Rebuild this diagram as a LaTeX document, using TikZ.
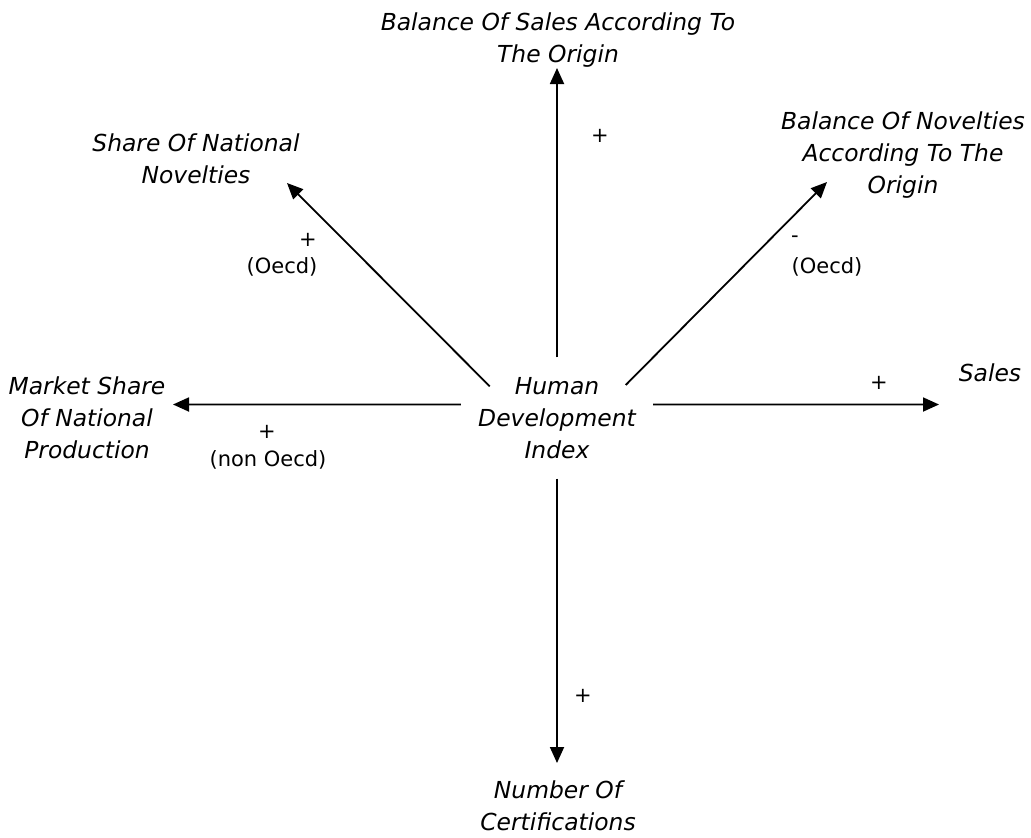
\documentclass[tikz,border=0pt]{standalone}
\usepackage{fontspec}
\setmainfont{DejaVu Sans}
\usetikzlibrary{arrows.meta}

\begin{document}
\begin{tikzpicture}[x=1pt, y=-1pt,
	arr/.style={line width=1.8pt, -{Triangle[length=16pt, width=14pt]}},
	var/.style={align=center, inner sep=0pt, font=\fontsize{23.4}{32}\selectfont\itshape},
	sgn/.style={inner sep=0pt, font=\fontsize{21}{26}\selectfont}]
	\useasboundingbox (0,0) rectangle (1031,838);
	
	\node[var, minimum width=192pt, minimum height=121pt] (n0) at (557,418) {Human\\Development\\Index};
	\node[var] (n1) at (558,40) {Balance Of Sales According To\\The Origin};
	\node[var] (n2) at (903,155) {Balance Of Novelties\\According To The\\Origin};
	\node[var] (n3) at (990,373) {Sales};
	\node[var] (n4) at (558,806) {Number Of\\Certifications};
	\node[var] (n5) at (87,418) {Market Share\\Of National\\Production};
	\node[var] (n6) at (196,159) {Share Of National\\Novelties};
	
	\coordinate (t1) at (557,68);
	\coordinate (t2) at (827,182);
	\coordinate (t3) at (939,404.5);
	\coordinate (t4) at (557,763);
	\coordinate (t5) at (173,404.5);
	\coordinate (t6) at (287,183);
	
	\draw[arr] (n0.north) -- (t1);
	\draw[arr, shorten <=-39pt] (n0.north east) -- (t2);
	\draw[arr] (n0.8) -- (t3);
	\draw[arr] (n0.south) -- (t4);
	\draw[arr] (n0.172) -- (t5);
	\draw[arr, shorten <=-41pt] (n0.north west) -- (t6);
	
	\node[sgn] (s1) at (600,136) {+};
	\node[sgn] (s2) at (308,240) {+};
	\node[sgn] (s3) at (282,267) {(Oecd)};
	\node[sgn] (s4) at (795,239) {-};
	\node[sgn] (s5) at (827,267) {(Oecd)};
	\node[sgn] (s6) at (879,383) {+};
	\node[sgn] (s7) at (267,432) {+};
	\node[sgn] (s8) at (268,460) {(non Oecd)};
	\node[sgn] (s9) at (583,696) {+};
	
\end{tikzpicture}
\end{document}
